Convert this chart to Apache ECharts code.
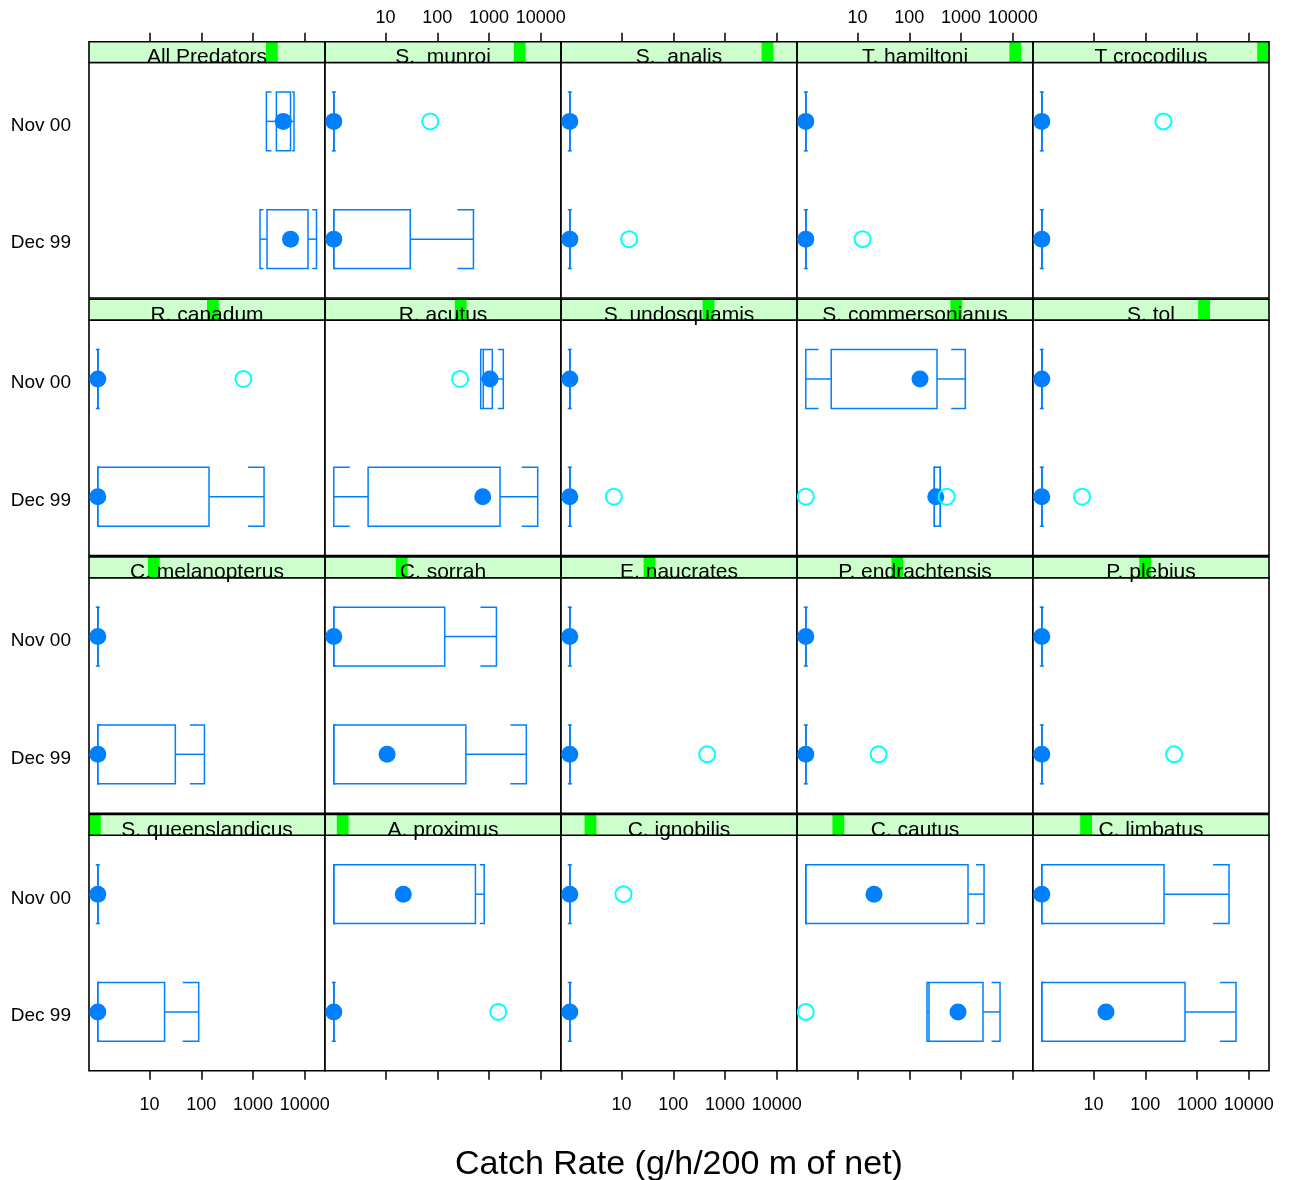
<!DOCTYPE html>
<html>
<head>
<meta charset="utf-8">
<script src="https://cdn.jsdelivr.net/npm/echarts@6/dist/echarts.min.js"></script>
<style>
  html, body { margin: 0; padding: 0; background: #ffffff; }
  #chart { width: 1290px; height: 1180px; }
</style>
</head>
<body>
<div id="chart"></div>
<script>
// Panel order: left to right, top row first
const species = [
  'All Predators', 'S.  munroi', 'S.  analis', 'T. hamiltoni', 'T crocodilus',
  'R. canadum', 'R. acutus', 'S. undosquamis', 'S. commersonianus', 'S. tol',
  'C. melanopterus', 'C. sorrah', 'E. naucrates', 'P. endrachtensis', 'P. plebius',
  'S. queenslandicus', 'A. proximus', 'C. ignobilis', 'C. cautus', 'C. limbatus'
];
const periods = ['Dec 99', 'Nov 00'];

// Catch rate (g/h/200 m of net): [lower whisker, Q1, median, Q3, upper whisker]
const dec99Stats = [
  [1362, 1862, 5300, 11530, 16830], [0, 0, 0, 30, 499], [0, 0, 0, 0, 0], [0, 0, 0, 0, 0], [0, 0, 0, 0, 0],
  [0, 0, 0, 141, 1629], [0, 4.6, 754, 1629, 8710], [0, 0, 0, 0, 0], [304, 304, 324, 397, 397], [0, 0, 0, 0, 0],
  [0, 0, 0, 31.5, 115], [0, 0, 10.7, 356, 5250], [0, 0, 0, 0, 0], [0, 0, 0, 0, 0], [0, 0, 0, 0, 0],
  [0, 0, 0, 19.5, 89], [0, 0, 0, 0, 0], [0, 0, 0, 0, 0], [220, 240, 873, 2655, 5660], [0, 0, 17.4, 585, 5660]
];
const nov00Stats = [
  [1810, 2825, 3830, 5300, 6180], [0, 0, 0, 0, 0], [0, 0, 0, 0, 0], [0, 0, 0, 0, 0], [0, 0, 0, 0, 0],
  [0, 0, 0, 0, 0], [690, 774, 1043, 1156, 1884], [0, 0, 0, 0, 0], [0, 3.1, 161, 343, 1208], [0, 0, 0, 0, 0],
  [0, 0, 0, 0, 0], [0, 0, 0, 139, 1387], [0, 0, 0, 0, 0], [0, 0, 0, 0, 0], [0, 0, 0, 0, 0],
  [0, 0, 0, 0, 0], [0, 0, 22, 545, 805], [0, 0, 0, 0, 0], [0, 0, 20.8, 1362, 2780], [0, 0, 0, 230, 4140]
];

// Outlying catches
const dec99Outliers = [
  [], [], [14], [12.5], [],
  [], [], [7.1], [0, 528], [6],
  [], [], [452], [25.5], [360],
  [], [1510], [], [0], []
];
const nov00Outliers = [
  [], [73], [], [], [224],
  [649], [275], [], [], [],
  [], [], [], [], [],
  [], [], [10.9], [], []
];

const tickValues = [10, 100, 1000, 10000];

// ---- layout and style ----
const FONT = '"Liberation Sans", Arial, Helvetica, sans-serif';
const NCOL = 5, NROW = 4;
const LEFT0 = 89, PANEL_W = 236, PANEL_H = 235.5;
const STRIP_TOP0 = 41.7, STRIP_H = 20.8, ROW_STEP = 257.6;
const X_MIN = -0.17, X_MAX = 4.39;
const BOX_HALF = 0.25;
const LABEL_DROP = 0.035;   // period labels sit slightly below their row centre
const BLUE = '#0080ff', CYAN = '#00ffff';
const STRIP_BG = '#ccffcc', STRIP_MARK = '#00ff00';

// zero catches sit at the axis origin (1 g/h) on the log scale
const toAxis = v => Math.log10(Math.max(v, 1));
const tickPos = tickValues.map(t => Math.log10(t));

function renderBox(params, api) {
  const y = api.value(0);
  const xs = [1, 2, 3, 4, 5].map(k => api.coord([api.value(k), y])[0]);
  const xLo = xs[0], xQ1 = xs[1], xMed = xs[2], xQ3 = xs[3], xHi = xs[4];
  const cy = api.coord([0, y])[1];
  const yTop = api.coord([0, y + BOX_HALF])[1];
  const yBot = api.coord([0, y - BOX_HALF])[1];
  const line = { stroke: BLUE, lineWidth: 1.5, fill: 'none' };
  const armL = Math.min(16, Math.max(2, (xQ1 - xLo) * 0.5));
  const armR = Math.min(16, Math.max(2, (xHi - xQ3) * 0.5));
  return {
    type: 'group',
    children: [
      { type: 'rect', shape: { x: xQ1, y: yTop, width: xQ3 - xQ1, height: yBot - yTop }, style: line },
      { type: 'line', shape: { x1: xLo, y1: cy, x2: xQ1, y2: cy }, style: line },
      { type: 'line', shape: { x1: xQ3, y1: cy, x2: xHi, y2: cy }, style: line },
      { type: 'polyline', shape: { points: [[xLo + armL, yTop], [xLo, yTop], [xLo, yBot], [xLo + armL, yBot]] }, style: line },
      { type: 'polyline', shape: { points: [[xHi - armR, yTop], [xHi, yTop], [xHi, yBot], [xHi - armR, yBot]] }, style: line },
      { type: 'circle', shape: { cx: xMed, cy: cy, r: 8.5 }, style: { fill: BLUE } }
    ]
  };
}

const grids = [], xAxes = [], yAxes = [], series = [], graphics = [];

species.forEach((name, i) => {
  const r = Math.floor(i / NCOL), c = i % NCOL;
  const left = LEFT0 + c * PANEL_W;
  const stripTop = STRIP_TOP0 + r * ROW_STEP;
  const top = stripTop + STRIP_H;

  grids.push({
    left: left, top: top, width: PANEL_W, height: PANEL_H,
    show: true, borderColor: '#000', borderWidth: 1.6, backgroundColor: '#fff'
  });

  const showTicks = r === 0 || r === NROW - 1;
  const showLabels = (r === 0 && c % 2 === 1) || (r === NROW - 1 && c % 2 === 0);
  xAxes.push({
    gridIndex: i, type: 'value', min: X_MIN, max: X_MAX,
    position: r === 0 ? 'top' : 'bottom',
    offset: r === 0 ? STRIP_H : 0,
    axisLine: { show: false },
    splitLine: { show: false },
    axisTick: { show: showTicks, length: 9, lineStyle: { color: '#000', width: 1.5 }, customValues: tickPos },
    axisLabel: {
      show: showLabels, customValues: tickPos,
      formatter: v => String(Math.round(Math.pow(10, v))),
      fontSize: 18, color: '#000', fontFamily: FONT,
      margin: r === 0 ? 15 : 25
    }
  });

  yAxes.push({
    gridIndex: i, type: 'value', min: 0.5, max: 2.5,
    axisLine: { show: false }, axisTick: { show: false }, splitLine: { show: false },
    axisLabel: {
      show: c === 0, customValues: [1 - LABEL_DROP, 2 - LABEL_DROP],
      formatter: v => periods[Math.round(v) - 1],
      fontSize: 19, color: '#000', fontFamily: FONT, margin: 18
    }
  });

  series.push({
    type: 'custom', xAxisIndex: i, yAxisIndex: i, silent: true, clip: false,
    renderItem: renderBox,
    encode: { x: [1, 2, 3, 4, 5], y: 0 },
    data: [
      [1].concat(dec99Stats[i].map(toAxis)),
      [2].concat(nov00Stats[i].map(toAxis))
    ]
  });

  series.push({
    type: 'scatter', xAxisIndex: i, yAxisIndex: i, silent: true,
    symbol: 'circle', symbolSize: 16,
    itemStyle: { color: 'rgba(255,255,255,0)', borderColor: CYAN, borderWidth: 2, opacity: 1 },
    data: dec99Outliers[i].map(v => [toAxis(v), 1]).concat(nov00Outliers[i].map(v => [toAxis(v), 2]))
  });

  // strip: background, level marker, label, frame
  const level = (NROW - 1 - r) * NCOL + c;
  const markW = PANEL_W / species.length;
  graphics.push(
    { type: 'rect', shape: { x: left, y: stripTop, width: PANEL_W, height: STRIP_H }, style: { fill: STRIP_BG }, z: 10 },
    { type: 'rect', shape: { x: left + level * markW, y: stripTop, width: markW, height: STRIP_H }, style: { fill: STRIP_MARK }, z: 11 },
    { type: 'text', x: left + PANEL_W / 2, y: stripTop + 15.5, style: { text: name, fill: '#000', font: '21px ' + FONT, textAlign: 'center', textVerticalAlign: 'middle' }, z: 12 },
    { type: 'rect', shape: { x: left, y: stripTop, width: PANEL_W, height: STRIP_H }, style: { fill: 'none', stroke: '#000', lineWidth: 1.6 }, z: 13 }
  );
});

graphics.push({
  type: 'text', x: LEFT0 + NCOL * PANEL_W / 2, y: 1165,
  style: { text: 'Catch Rate (g/h/200 m of net)', fill: '#000', font: '34px ' + FONT, textAlign: 'center', textVerticalAlign: 'middle' },
  z: 12
});

const chart = echarts.init(document.getElementById('chart'), null, { renderer: 'canvas' });
chart.setOption({
  animation: false,
  backgroundColor: '#ffffff',
  grid: grids,
  xAxis: xAxes,
  yAxis: yAxes,
  series: series,
  graphic: { elements: graphics }
});
</script>
</body>
</html>
